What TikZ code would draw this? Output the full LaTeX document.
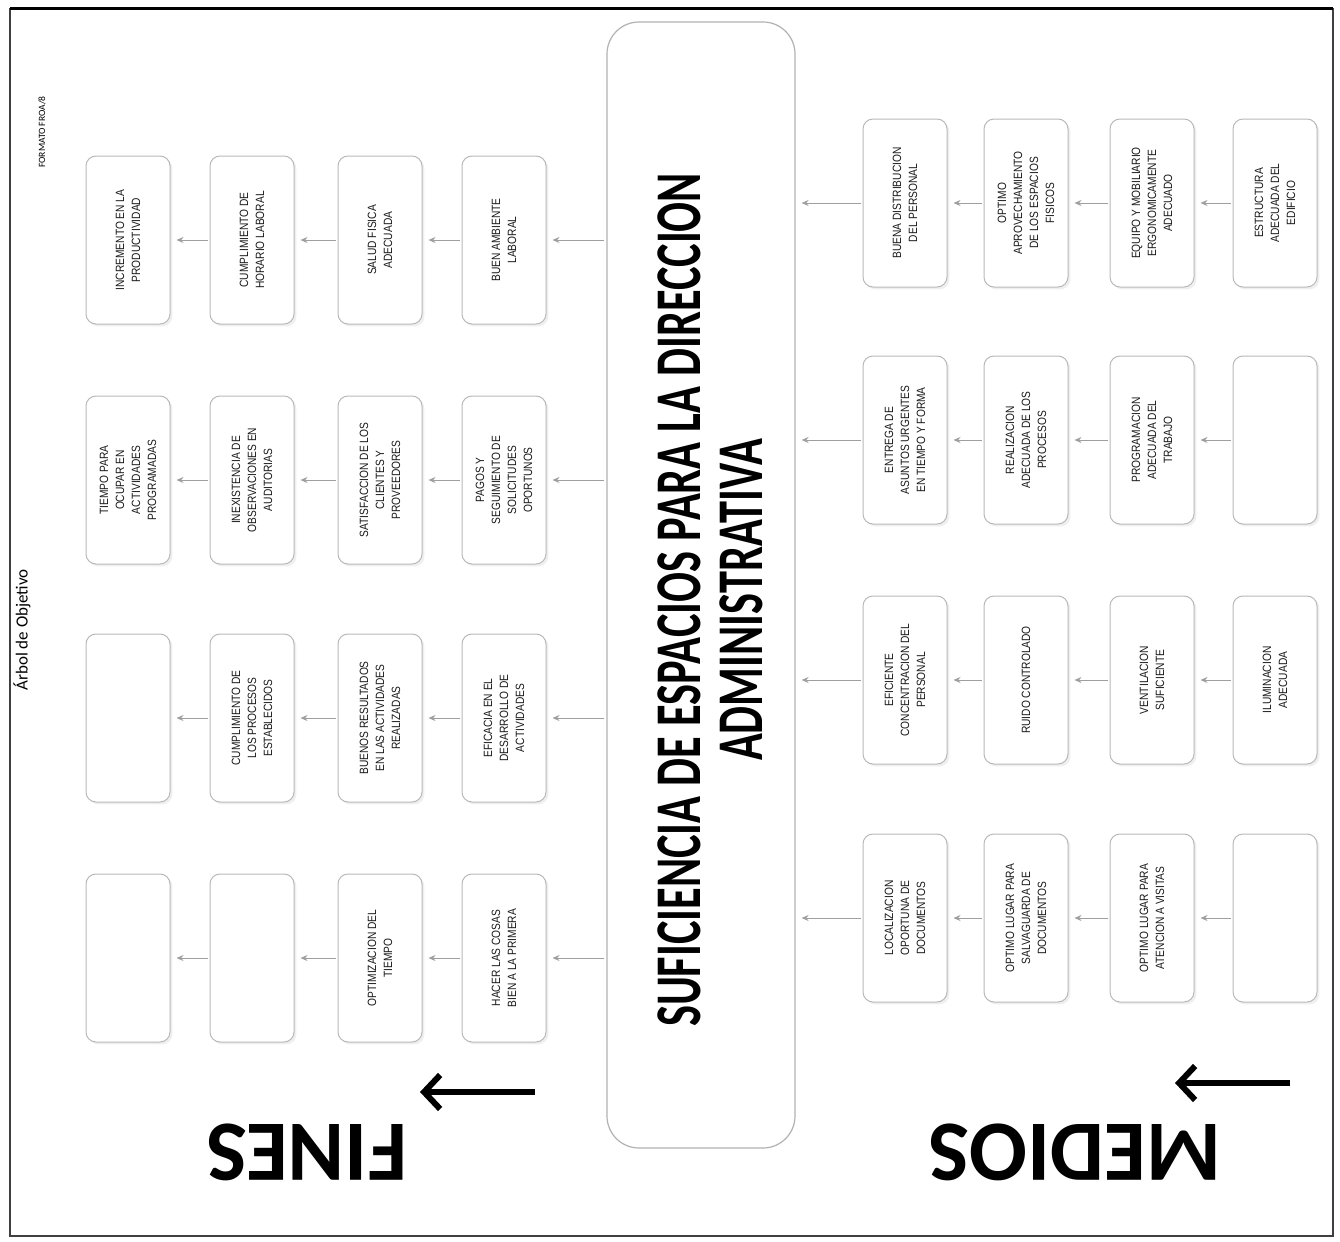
\documentclass[tikz,border=0pt]{standalone}
\usepackage{fontspec}
\setmainfont{Carlito}
\newfontfamily\boxfont{Liberation Sans}[FakeStretch=0.85]
\newfontfamily\titlefont{Carlito}[FakeStretch=0.68]
\usetikzlibrary{arrows.meta,shadows}
\tikzset{
  bx/.style={draw=gray!55, line width=0.5pt, rounded corners=5pt, rotate=90,
    minimum width=84pt, minimum height=42pt, align=center, inner sep=2pt,
    font=\boxfont\fontsize{6}{8}\selectfont, text=black!90, fill=white,
    drop shadow={opacity=0.12, shadow xshift=1.2pt, shadow yshift=-1.2pt}},
  arr/.style={draw=gray!75, line width=0.5pt, -{Stealth[length=3.5pt,width=3pt]},
    shorten >=3pt, shorten <=1pt},
  bigarr/.style={line width=3pt, -{Straight Barb[length=8pt,width=17pt]}},
  bigword/.style={rotate=180, font=\bfseries\fontsize{43}{43}\selectfont},
}
\begin{document}
\begin{tikzpicture}[x=0.5pt,y=-0.5pt]
\useasboundingbox (0,0) rectangle (1340,1242);
\fill[white] (0,0) rectangle (1340,1242);
% frame
\draw[line width=0.8pt, black!75] (10,9) rectangle (1333,1236);
\draw[line width=1.5pt] (10,8) -- (1333,8);

% small labels
\node[rotate=90, font=\fontsize{8.5}{10}\selectfont] (arbol) at (22,630) {Árbol de Objetivo};
\node[rotate=90, font=\fontsize{4.8}{5}\selectfont] (fmt) at (42,132) {FORMATO FROA/8};

% central box
\node[draw=gray!60, line width=0.6pt, rounded corners=16pt, rotate=90,
  minimum width=563pt, minimum height=94pt, fill=white] (cen) at (701,585) {};
\node[rotate=90, align=center, font=\titlefont\bfseries\fontsize{32.6}{31}\selectfont] (title) at (710,600)
  {SUFICIENCIA DE ESPACIOS PARA LA DIRECCION\\ADMINISTRATIVA};

% FINES boxes
\node[bx] (F11) at (128,240) {INCREMENTO EN LA\\PRODUCTIVIDAD};
\node[bx] (F12) at (252,240) {CUMPLIMIENTO DE\\HORARIO LABORAL};
\node[bx] (F13) at (380,240) {SALUD FISICA\\ADECUADA};
\node[bx] (F14) at (504,240) {BUEN AMBIENTE\\LABORAL};

\node[bx] (F21) at (128,480) {TIEMPO PARA\\OCUPAR EN\\ACTIVIDADES\\PROGRAMADAS};
\node[bx] (F22) at (252,480) {INEXISTENCIA DE\\OBSERVACIONES EN\\AUDITORIAS};
\node[bx] (F23) at (380,480) {SATISFACCION DE LOS\\CLIENTES Y\\PROVEEDORES};
\node[bx] (F24) at (504,480) {PAGOS Y\\SEGUIMIENTO DE\\SOLICITUDES\\OPORTUNOS};

\node[bx] (F31) at (128,718) {};
\node[bx] (F32) at (252,718) {CUMPLIMIENTO DE\\LOS PROCESOS\\ESTABLECIDOS};
\node[bx] (F33) at (380,718) {BUENOS RESULTADOS\\EN LAS ACTIVIDADES\\REALIZADAS};
\node[bx] (F34) at (504,718) {EFICACIA EN EL\\DESARROLLO DE\\ACTIVIDADES};

\node[bx] (F41) at (128,958) {};
\node[bx] (F42) at (252,958) {};
\node[bx] (F43) at (380,958) {OPTIMIZACION DEL\\TIEMPO};
\node[bx] (F44) at (504,958) {HACER LAS COSAS\\BIEN A LA PRIMERA};

% MEDIOS boxes
\node[bx] (M11) at (905,203) {BUENA DISTRIBUCION\\DEL PERSONAL};
\node[bx] (M12) at (1026,203) {OPTIMO\\APROVECHAMIENTO\\DE LOS ESPACIOS\\FISICOS};
\node[bx] (M13) at (1152,203) {EQUIPO Y MOBILIARIO\\ERGONOMICAMENTE\\ADECUADO};
\node[bx] (M14) at (1275,203) {ESTRUCTURA\\ADECUADA DEL\\EDIFICIO};

\node[bx] (M21) at (905,440) {ENTREGA DE\\ASUNTOS URGENTES\\EN TIEMPO Y FORMA};
\node[bx] (M22) at (1026,440) {REALIZACION\\ADECUADA DE LOS\\PROCESOS};
\node[bx] (M23) at (1152,440) {PROGRAMACION\\ADECUADA DEL\\TRABAJO};
\node[bx] (M24) at (1275,440) {};

\node[bx] (M31) at (905,680) {EFICIENTE\\CONCENTRACION DEL\\PERSONAL};
\node[bx] (M32) at (1026,680) {RUIDO CONTROLADO};
\node[bx] (M33) at (1152,680) {VENTILACION\\SUFICIENTE};
\node[bx] (M34) at (1275,680) {ILUMINACION\\ADECUADA};

\node[bx] (M41) at (905,918) {LOCALIZACION\\OPORTUNA DE\\DOCUMENTOS};
\node[bx] (M42) at (1026,918) {OPTIMO LUGAR PARA\\SALVAGUARDA DE\\DOCUMENTOS};
\node[bx] (M43) at (1152,918) {OPTIMO LUGAR PARA\\ATENCION A VISITAS};
\node[bx] (M44) at (1275,918) {};

% FINES connectors (center -> outward)
\foreach \g in {1,2,3,4}{
  \draw[arr] (cen.north |- F\g4.center) -- (F\g4.south);
  \draw[arr] (F\g4.north) -- (F\g3.south);
  \draw[arr] (F\g3.north) -- (F\g2.south);
  \draw[arr] (F\g2.north) -- (F\g1.south);
}
% MEDIOS connectors (outer -> center)
\foreach \g in {1,2,3,4}{
  \draw[arr] (M\g1.north) -- (cen.south |- M\g1.center);
  \draw[arr] (M\g2.north) -- (M\g1.south);
  \draw[arr] (M\g3.north) -- (M\g2.south);
  \draw[arr] (M\g4.north) -- (M\g3.south);
}

% big arrows and words
\coordinate (fa1) at (535,1092);
\coordinate (fa2) at (420,1092);
\draw[bigarr] (fa1) -- (fa2);
\coordinate (ma1) at (1290,1083);
\coordinate (ma2) at (1175,1083);
\draw[bigarr] (ma1) -- (ma2);
\node[bigword] (fines) at (307,1152) {FINES};
\node[bigword] (medios) at (1075,1152) {MEDIOS};
\end{tikzpicture}
\end{document}
